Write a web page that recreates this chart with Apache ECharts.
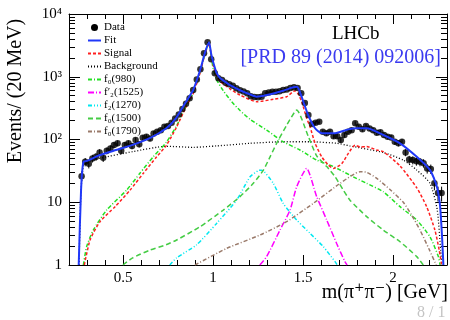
<!DOCTYPE html>
<html>
<head>
<meta charset="utf-8">
<script src="https://cdn.jsdelivr.net/npm/echarts@6/dist/echarts.min.js"></script>
<style>
  html, body { margin: 0; padding: 0; background: #fff; }
  #chart { width: 450px; height: 320px; }
</style>
</head>
<body>
<div id="chart"></div>
<script>
const FONT = '"Liberation Serif", "DejaVu Serif", serif';

// data points, 20 MeV bins
const dataMass = [
  0.27, 0.29, 0.31, 0.33, 0.35, 0.37, 0.39, 0.41, 0.43, 0.45,
  0.47, 0.49, 0.51, 0.53, 0.55, 0.57, 0.59, 0.61, 0.63, 0.65,
  0.67, 0.69, 0.71, 0.73, 0.75, 0.77, 0.79, 0.81, 0.83, 0.85,
  0.87, 0.89, 0.91, 0.93, 0.95, 0.97, 0.99, 1.01, 1.03, 1.05,
  1.07, 1.09, 1.11, 1.13, 1.15, 1.17, 1.19, 1.21, 1.23, 1.25,
  1.27, 1.29, 1.31, 1.33, 1.35, 1.37, 1.39, 1.41, 1.43, 1.45,
  1.47, 1.49, 1.51, 1.53, 1.55, 1.57, 1.59, 1.61, 1.63, 1.65,
  1.67, 1.69, 1.71, 1.73, 1.75, 1.77, 1.79, 1.81, 1.83, 1.85,
  1.87, 1.89, 1.91, 1.93, 1.95, 1.97, 1.99, 2.01, 2.03, 2.05,
  2.07, 2.09, 2.11, 2.13, 2.15, 2.17, 2.19, 2.21, 2.23, 2.25,
  2.27
];
const dataEvents = [
  26, 44, 41, 50, 53, 62, 51, 66, 72, 82,
  87, 66, 82, 87, 79, 98, 84, 107, 111, 104,
  125, 133, 141, 160, 164, 185, 217, 250, 306, 370,
  453, 615, 900, 1315, 2365, 3540, 1900, 1135, 945, 890,
  805, 760, 720, 655, 610, 580, 545, 490, 475, 470,
  481, 545, 560, 575, 575, 590, 615, 625, 660, 680,
  660, 545, 380, 245, 177, 185, 192, 133, 126, 133,
  113, 113, 98, 118, 133, 141, 181, 160, 145, 164,
  150, 140, 128, 131, 118, 111, 108, 92, 87, 92,
  62, 48, 47, 45, 44, 42, 34.5, 34, 20, 14,
  14
];

// fit curves
const fitMass = [0.254, 0.267, 0.28, 0.304, 0.368, 0.461, 0.554, 0.646, 0.739, 0.794, 0.85, 0.89, 0.93, 0.955, 0.978, 0.99, 1.0, 1.02, 1.04, 1.06, 1.1, 1.15, 1.2, 1.243, 1.3, 1.39, 1.446, 1.465, 1.48, 1.502, 1.53, 1.567, 1.604, 1.678, 1.752, 1.8, 1.854, 1.946, 2.039, 2.132, 2.206, 2.243, 2.261, 2.272, 2.28];
const fitVal = [1, 15.7, 44, 46, 56, 68, 82, 104, 150, 217, 400, 615, 1315, 2400, 3540, 2300, 1750, 1150, 950, 860, 720, 610, 530, 481, 512, 600, 679, 690, 600, 400, 240, 151, 126, 126, 145, 151, 151, 118, 87, 53, 32.5, 18, 9, 3, 1];

const sigMass = [0.285, 0.317, 0.372, 0.456, 0.539, 0.613, 0.687, 0.74, 0.794, 0.85, 0.89, 0.93, 0.955, 0.978, 0.99, 1.0, 1.02, 1.04, 1.094, 1.15, 1.243, 1.335, 1.409, 1.456, 1.475, 1.493, 1.52, 1.539, 1.567, 1.604, 1.641, 1.669, 1.715, 1.752, 1.789, 1.817, 1.854, 1.91, 1.946, 2.039, 2.132, 2.187, 2.233, 2.257, 2.27];
const sigVal = [1, 2.5, 4.9, 8.5, 15.6, 28.9, 53, 80, 150, 330, 540, 1200, 2300, 3400, 2200, 1600, 1000, 850, 640, 512, 400, 437, 481, 600, 520, 400, 220, 160, 87, 53, 39, 34.6, 41, 60, 81, 76, 77, 68, 64, 38, 17, 8.5, 3.6, 1.7, 1];

const bkgMass = [0.256, 0.265, 0.28, 0.31, 0.368, 0.554, 0.739, 0.891, 1.02, 1.206, 1.39, 1.539, 1.687, 1.76, 1.946, 2.057, 2.13, 2.206, 2.246, 2.265, 2.272];
const bkgVal = [1, 12, 38, 44, 50, 64, 78, 75, 79, 87, 92, 92, 87, 79, 62, 47, 33, 20, 7.5, 1.7, 1];

const f980Mass = [0.28, 0.298, 0.335, 0.409, 0.52, 0.594, 0.668, 0.74, 0.80, 0.85, 0.89, 0.93, 0.955, 0.975, 1.0, 1.02, 1.057, 1.104, 1.15, 1.206, 1.298, 1.39, 1.483, 1.576, 1.669, 1.761, 1.854, 1.946, 2.039, 2.132, 2.206, 2.252, 2.262];
const f980Val = [1, 1.96, 3.6, 7.5, 15.6, 29, 53, 90, 170, 340, 550, 1250, 2300, 3450, 1400, 900, 600, 400, 290, 210, 141, 92, 68, 47, 37, 27, 20, 14.7, 8.5, 5.2, 2.8, 1.36, 1];

const f1525Mass = [1.26, 1.298, 1.372, 1.428, 1.465, 1.52, 1.576, 1.632, 1.687, 1.733, 1.745];
const f1525Val = [1, 1.36, 3.6, 7.5, 17.7, 34.6, 12.3, 5.2, 2.2, 1.13, 1];

const f1270Mass = [0.76, 0.798, 0.909, 1.02, 1.131, 1.206, 1.252, 1.27, 1.335, 1.39, 1.465, 1.539, 1.613, 1.678, 1.69];
const f1270Val = [1, 1.3, 2.1, 4.6, 10.8, 25.5, 32, 32.5, 20, 9.6, 5.2, 3.2, 1.96, 1.13, 1];

const f1500Mass = [0.50, 0.554, 0.65, 0.739, 0.798, 0.928, 1.057, 1.15, 1.224, 1.28, 1.317, 1.363, 1.41, 1.465, 1.53, 1.576, 1.632, 1.678, 1.724, 1.761, 1.854, 1.946, 2.039, 2.132, 2.168];
const f1500Val = [1, 1.3, 1.73, 2.1, 2.5, 4.08, 7.5, 12.3, 20, 32.5, 53, 98, 170, 295, 111, 55, 37, 25.5, 15.6, 10.8, 5.9, 3.6, 2.35, 1.36, 1];

const f1790Mass = [0.9, 1.076, 1.261, 1.409, 1.557, 1.706, 1.817, 1.854, 1.91, 1.983, 2.057, 2.1, 2.15, 2.2, 2.24];
const f1790Val = [1, 1.84, 3.0, 4.9, 9.6, 20, 30.6, 30, 24, 16, 10, 6.5, 3.6, 1.8, 1];

// axis ticks
const xMajorTicks = [0.5, 1, 1.5, 2];
const yTickValues = [1, 10, 100, 1000, 10000];
const yTickLabels = ['1', '10', '10²', '10³', '10⁴'];
const yMinorTicks = [];
[1, 10, 100, 1000].forEach(d => { for (let m = 2; m <= 9; m++) yMinorTicks.push(m * d); });

const zip = (xs, ys) => xs.map((x, i) => [x, ys[i]]);

const curve = (name, xs, ys, color, type, width) => ({
  name, type: 'line', data: zip(xs, ys), symbol: 'none', smooth: 0.2,
  lineStyle: { color, type, width }, itemStyle: { color }, z: 3,
});

const chart = echarts.init(document.getElementById('chart'));

const xBase = { type: 'value', min: 0.2, max: 2.3, splitLine: { show: false }, axisLabel: { show: false } };
const yBase = { type: 'log', logBase: 10, min: 1, max: 10000, splitLine: { show: false }, axisLabel: { show: false } };
const black = { color: '#000', width: 1 };

chart.setOption({
  animation: false,
  grid: { left: 69, right: 3, top: 14, bottom: 55, containLabel: false, outerBoundsMode: 'none' },
  legend: {
    orient: 'vertical', left: 82, top: 17, itemWidth: 13, itemHeight: 7, itemGap: 2,
    selectedMode: false,
    itemStyle: { opacity: 0 },
    textStyle: { fontFamily: FONT, fontSize: 11, color: '#000', padding: [0, 0, 0, -2] },
    data: [
      { name: 'Data', itemStyle: { opacity: 1 } },
      'Fit', 'Signal', 'Background', 'f₀(980)', 'f′₂(1525)', 'f₂(1270)', 'f₀(1500)', 'f₀(1790)'
    ],
  },
  xAxis: [
    Object.assign({}, xBase, {
      position: 'bottom', interval: 0.1,
      axisLine: { lineStyle: black },
      axisTick: { inside: true, length: 5, lineStyle: black },
      axisLabel: { show: true, customValues: xMajorTicks, margin: 6, fontFamily: FONT, fontSize: 15, color: '#000' },
    }),
    Object.assign({}, xBase, {
      position: 'bottom', axisLine: { show: false },
      axisTick: { inside: true, length: 10, customValues: xMajorTicks, lineStyle: black },
    }),
    Object.assign({}, xBase, {
      position: 'top', interval: 0.1,
      axisLine: { lineStyle: black },
      axisTick: { inside: true, length: 5, lineStyle: black },
    }),
    Object.assign({}, xBase, {
      position: 'top', axisLine: { show: false },
      axisTick: { inside: true, length: 10, customValues: xMajorTicks, lineStyle: black },
    }),
  ],
  yAxis: [
    Object.assign({}, yBase, {
      position: 'left',
      axisLine: { lineStyle: black },
      axisTick: { inside: true, length: 11, lineStyle: black },
      axisLabel: {
        show: true, margin: 7, fontFamily: FONT, fontSize: 15, color: '#000', padding: [7, 0, 0, 0],
        formatter: v => yTickLabels[yTickValues.indexOf(Math.round(v))] || '',
      },
    }),
    Object.assign({}, yBase, {
      position: 'left', axisLine: { show: false },
      axisTick: { inside: true, length: 6, customValues: yMinorTicks, lineStyle: black },
    }),
    Object.assign({}, yBase, {
      position: 'right',
      axisLine: { lineStyle: black },
      axisTick: { inside: true, length: 11, lineStyle: black },
    }),
    Object.assign({}, yBase, {
      position: 'right', axisLine: { show: false },
      axisTick: { inside: true, length: 6, customValues: yMinorTicks, lineStyle: black },
    }),
  ],
  graphic: [
    { type: 'text', x: 16, y: 91, rotation: Math.PI / 2,
      style: { text: 'Events/ (20 MeV)', font: '20px ' + FONT, fill: '#000', textAlign: 'center', textVerticalAlign: 'middle' } },
    { type: 'text', x: 448, y: 293,
      style: { text: 'm(π⁺π⁻) [GeV]', font: '20px ' + FONT, fill: '#000', textAlign: 'right', textVerticalAlign: 'middle' } },
    { type: 'text', x: 332, y: 34,
      style: { text: 'LHCb', font: '19px ' + FONT, fill: '#000', textAlign: 'left', textVerticalAlign: 'middle' } },
    { type: 'text', x: 441, y: 58,
      style: { text: '[PRD 89 (2014) 092006]', font: '20px ' + FONT, fill: '#3a3af0', textAlign: 'right', textVerticalAlign: 'middle' } },
    { type: 'text', x: 417, y: 313,
      style: { text: '8 / 1', font: '16px ' + FONT, fill: '#c4c4c4', textAlign: 'left', textVerticalAlign: 'middle' } },
  ],
  series: [
    curve('Background', bkgMass, bkgVal, '#000000', [1, 2], 1.3),
    curve('f₀(980)', f980Mass, f980Val, '#22e022', [4, 2, 1, 2], 1.5),
    curve('f′₂(1525)', f1525Mass, f1525Val, '#ff00ff', [6, 2, 1, 2], 1.5),
    curve('f₂(1270)', f1270Mass, f1270Val, '#00e8f0', [4, 2, 1, 2, 1, 2], 1.5),
    curve('f₀(1500)', f1500Mass, f1500Val, '#44cc44', [5, 3], 1.5),
    curve('f₀(1790)', f1790Mass, f1790Val, '#9a7a6a', [4, 2, 1, 2], 1.5),
    curve('Signal', sigMass, sigVal, '#ff2020', [3, 2], 1.5),
    {
      type: 'custom', data: zip(dataMass, dataEvents), z: 4,
      renderItem: (params, api) => {
        const x = api.value(0), y = api.value(1), e = Math.sqrt(y);
        const lo = api.coord([x, Math.max(y - e, 1)]);
        const hi = api.coord([x, y + e]);
        return { type: 'line', shape: { x1: lo[0], y1: lo[1], x2: hi[0], y2: hi[1] }, style: { stroke: '#000', lineWidth: 1 } };
      },
    },
    {
      name: 'Data', type: 'scatter', data: zip(dataMass, dataEvents), symbol: 'circle', symbolSize: 6.5,
      itemStyle: { color: '#000' }, z: 4,
    },
    Object.assign(curve('Fit', fitMass, fitVal, '#2038f8', 'solid', 2), { z: 5 }),
  ],
});
</script>
</body>
</html>
